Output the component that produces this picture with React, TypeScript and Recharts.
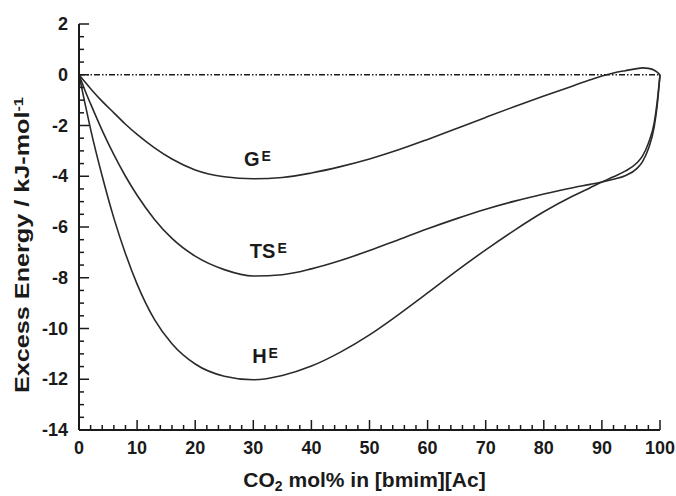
import { LineChart, Line, XAxis, YAxis, ReferenceLine, ReferenceDot } from "recharts";

// CO2 mol% (x) and excess properties in kJ/mol
const molPct = [0, 1, 2, 4, 6, 8, 10, 13, 16, 20, 25, 30, 35, 40, 45, 50, 55, 60, 65, 70, 75, 80, 85, 88, 90, 92, 94, 96, 97, 98, 99, 99.5, 100];
const gExcess = [0, -0.28, -0.55, -1.05, -1.5, -1.95, -2.35, -2.88, -3.32, -3.75, -4.02, -4.1, -4.05, -3.87, -3.62, -3.32, -2.96, -2.55, -2.12, -1.68, -1.25, -0.84, -0.44, -0.2, -0.05, 0.07, 0.16, 0.24, 0.27, 0.25, 0.18, 0.1, 0];
const tsExcess = [0, -0.6, -1.15, -2.2, -3.15, -4.0, -4.75, -5.7, -6.45, -7.15, -7.68, -7.93, -7.88, -7.65, -7.32, -6.93, -6.5, -6.07, -5.67, -5.3, -4.98, -4.7, -4.45, -4.32, -4.23, -4.12, -3.98, -3.7, -3.42, -2.92, -2.05, -1.25, 0];
const hExcess = [0, -1.1, -2.15, -4.0, -5.65, -7.05, -8.25, -9.65, -10.6, -11.4, -11.88, -12.02, -11.85, -11.48, -10.93, -10.25, -9.45, -8.6, -7.73, -6.9, -6.12, -5.4, -4.78, -4.45, -4.23, -4.02, -3.8, -3.48, -3.2, -2.7, -1.9, -1.1, 0];

const xTicks = Array.from({ length: 51 }, (_, i) => i * 2);
const yTicks = Array.from({ length: 33 }, (_, i) => -14 + i * 0.5);

const FONT = '"Liberation Sans", Arial, Helvetica, sans-serif';
const INK = "#1a1a1a";

const data = molPct.map((x, i) => ({ x, g: gExcess[i], ts: tsExcess[i], h: hExcess[i] }));

function XTick({ x, y, payload }: any) {
  const major = payload.value % 10 === 0;
  return (
    <g>
      <line x1={x} x2={x} y1={y} y2={y - (major ? 10 : 5)} stroke={INK} strokeWidth={1.5} />
      {major && (
        <text x={x} y={y + 24} textAnchor="middle" fontFamily={FONT} fontWeight="bold" fontSize={18} fill={INK}>
          {payload.value}
        </text>
      )}
    </g>
  );
}

function YTickLeft({ x, y, payload }: any) {
  const major = payload.value % 2 === 0;
  return (
    <g>
      <line x1={x} x2={x + (major ? 10 : 5)} y1={y} y2={y} stroke={INK} strokeWidth={1.5} />
      {major && (
        <text x={x - 11} y={y + 6} textAnchor="end" fontFamily={FONT} fontWeight="bold" fontSize={18} fill={INK}>
          {payload.value}
        </text>
      )}
    </g>
  );
}

function YTickRight({ x, y, payload }: any) {
  const major = payload.value % 2 === 0;
  return <line x1={x} x2={x - (major ? 10 : 5)} y1={y} y2={y} stroke={INK} strokeWidth={1.5} />;
}

// curve label like G^E, anchored at its left baseline
function curveLabel(main: string) {
  return ({ viewBox }: any) => (
    <text x={viewBox.x} y={viewBox.y} fontFamily={FONT} fontWeight="bold" fontSize={20} fill={INK}>
      {main}
      <tspan dx={2} dy={-5} fontSize={14}>E</tspan>
    </text>
  );
}

export default function App() {
  return (
    <div style={{ position: "absolute", left: 0, top: 0, background: "#fff" }}>
      <LineChart width={676} height={496} data={data} margin={{ top: 24, right: 16, bottom: 0, left: 0 }}>
        <XAxis
          dataKey="x"
          type="number"
          domain={[0, 100]}
          ticks={xTicks}
          interval={0}
          tickSize={0}
          tickMargin={0}
          tick={<XTick />}
          axisLine={{ stroke: INK, strokeWidth: 2 }}
          height={66}
          label={({ viewBox }: any) => (
            <text x={viewBox.x + viewBox.width / 2 - 5} y={viewBox.y + 57} textAnchor="middle" fontFamily={FONT} fontWeight="bold" fontSize={21} fill={INK}>
              CO<tspan dy={4} fontSize={14}>2</tspan>
              <tspan dy={-4}> mol% in [bmim][Ac]</tspan>
            </text>
          )}
        />
        <XAxis
          xAxisId="top"
          orientation="top"
          dataKey="x"
          type="number"
          domain={[0, 100]}
          height={0}
          tick={false}
          tickLine={false}
          axisLine={{ stroke: "#8a8a8a", strokeWidth: 3 }}
        />
        <YAxis
          type="number"
          domain={[-14, 2]}
          ticks={yTicks}
          interval={0}
          tickSize={0}
          tickMargin={0}
          tick={<YTickLeft />}
          axisLine={{ stroke: INK, strokeWidth: 2 }}
          width={79}
          label={({ viewBox }: any) => {
            const cx = viewBox.x + 22;
            const cy = viewBox.y + viewBox.height / 2 + 18;
            return (
              <text
                x={cx}
                y={cy}
                transform={`rotate(-90, ${cx}, ${cy})`}
                dy={7}
                textAnchor="middle"
                textLength={296}
                lengthAdjust="spacingAndGlyphs"
                fontFamily={FONT}
                fontWeight="bold"
                fontSize={20}
                fill={INK}
              >
                Excess Energy / kJ-mol<tspan dy={-6} fontSize={13}>-1</tspan>
              </text>
            );
          }}
        />
        <YAxis
          yAxisId="right"
          orientation="right"
          type="number"
          domain={[-14, 2]}
          ticks={yTicks}
          interval={0}
          tickSize={0}
          tickMargin={0}
          tick={<YTickRight />}
          axisLine={{ stroke: INK, strokeWidth: 2 }}
          width={0}
        />
        <ReferenceLine y={0} stroke={INK} strokeWidth={1.5} strokeDasharray="6 2 1.5 2 1.5 2" />
        <Line dataKey="g" type="monotone" stroke="#2a2a2a" strokeWidth={1.6} dot={false} isAnimationActive={false} />
        <Line dataKey="ts" type="monotone" stroke="#2a2a2a" strokeWidth={1.6} dot={false} isAnimationActive={false} />
        <Line dataKey="h" type="monotone" stroke="#2a2a2a" strokeWidth={1.6} dot={false} isAnimationActive={false} />
        <ReferenceDot x={28.4} y={-3.6} r={0} stroke="none" fill="none" label={curveLabel("G")} />
        <ReferenceDot x={29.4} y={-7.22} r={0} stroke="none" fill="none" label={curveLabel("TS")} />
        <ReferenceDot x={29.8} y={-11.36} r={0} stroke="none" fill="none" label={curveLabel("H")} />
      </LineChart>
    </div>
  );
}
